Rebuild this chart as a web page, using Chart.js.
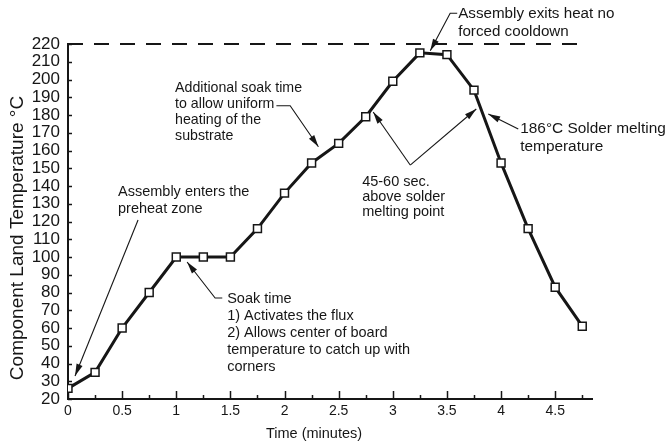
<!DOCTYPE html>
<html>
<head>
<meta charset="utf-8">
<script src="https://cdn.jsdelivr.net/npm/chart.js@4.4.0/dist/chart.umd.min.js"></script>
<style>
  body { margin: 0; background: #fff; }
  #wrap { width: 669px; height: 443px; }
</style>
</head>
<body>
<div id="wrap"><canvas id="profile" width="669" height="443"></canvas></div>
<script>
// reflow profile readings
const timeMin = [0, 0.25, 0.5, 0.75, 1, 1.25, 1.5, 1.75, 2, 2.25, 2.5, 2.75, 3, 3.25, 3.5, 3.75, 4, 4.25, 4.5, 4.75];
const tempC = [26, 35, 60, 80, 100, 100, 100, 116, 136, 153, 164, 179, 199, 215, 214, 194, 153, 116, 83, 61];
const xTickLabels = ['0', '0.5', '1', '1.5', '2', '2.5', '3', '3.5', '4', '4.5'];
const yTickLabels = [20, 30, 40, 50, 60, 70, 80, 90, 100, 110, 120, 130, 140, 150, 160, 170, 180, 190, 200, 210, 220];
const limitX = [0, 4.8];
const limitTemp = [220, 220];

const ink = '#161616';
const font = 'Liberation Sans, Arial, Helvetica, sans-serif';

// callouts: text anchor and arrow path are in data units (minutes, °C)
const notes = [
    { lines: ['Assembly enters the', 'preheat zone'], at: [0.462, 136.6], gap: 16.5, size: 14.5,
      path: [[0.647, 120.8], [0.065, 33]] },
    { lines: ['Soak time', '1) Activates the flux', '2) Allows center of board', 'temperature to catch up with', 'corners'],
      at: [1.47, 76.3], gap: 17, size: 14.5,
      path: [[1.425, 76.9], [1.359, 76.9], [1.10, 97.2]] },
    { lines: ['Additional soak time', 'to allow uniform', 'heating of the', 'substrate'], at: [0.989, 194.9], gap: 15.8, size: 14.2,
      path: [[1.925, 185.2], [2.052, 185.2], [2.313, 162.1]] },
    { lines: ['Assembly exits heat no', 'forced cooldown'], at: [3.604, 236.9], gap: 18, size: 15.2,
      path: [[3.595, 237.3], [3.53, 237.3], [3.346, 216.2]] },
    { lines: ['45-60 sec.', 'above solder', 'melting point'], at: [2.717, 142.3], gap: 14.8, size: 14.5,
      path: [[3.161, 151.8], [2.819, 181.7]], path2: [[3.161, 151.8], [3.771, 183.4]] },
    { lines: ['186\u00B0C Solder melting', 'temperature'], at: [4.177, 172.4], gap: 18, size: 15.4,
      path: [[4.159, 172.1], [3.882, 180.6]] }
];

function arrow(ctx, pts) {
    ctx.beginPath();
    ctx.moveTo(pts[0][0], pts[0][1]);
    for (let i = 1; i < pts.length; i++) ctx.lineTo(pts[i][0], pts[i][1]);
    ctx.stroke();
    const [tx, ty] = pts[pts.length - 1];
    const [fx, fy] = pts[pts.length - 2];
    const a = Math.atan2(ty - fy, tx - fx);
    const len = 12, half = 3.2;
    ctx.beginPath();
    ctx.moveTo(tx, ty);
    ctx.lineTo(tx - len * Math.cos(a) + half * Math.sin(a), ty - len * Math.sin(a) - half * Math.cos(a));
    ctx.lineTo(tx - len * Math.cos(a) - half * Math.sin(a), ty - len * Math.sin(a) + half * Math.cos(a));
    ctx.closePath();
    ctx.fill();
}

const sketch = {
    id: 'sketch',
    beforeDatasetsDraw(chart) {
        const { ctx, scales: { x, y } } = chart;
        ctx.save();
        ctx.strokeStyle = ink;
        ctx.lineWidth = 1.5;
        // tick marks point inward like the original
        x.ticks.forEach(t => {
            const len = xTickLabels.includes(String(t.value)) ? 8 : 4;
            const px = Math.round(x.getPixelForValue(t.value)) + 0.5;
            ctx.beginPath();
            ctx.moveTo(px, y.bottom);
            ctx.lineTo(px, y.bottom - len);
            ctx.stroke();
        });
        y.ticks.forEach(t => {
            const py = Math.round(y.getPixelForValue(t.value)) + 0.5;
            ctx.beginPath();
            ctx.moveTo(x.left, py);
            ctx.lineTo(x.left + 4, py);
            ctx.stroke();
        });
        ctx.restore();
    },
    afterDraw(chart) {
        const { ctx, scales: { x, y } } = chart;
        const toPx = p => [x.getPixelForValue(p[0]), y.getPixelForValue(p[1])];
        ctx.save();
        ctx.fillStyle = ink;
        ctx.strokeStyle = ink;
        ctx.lineWidth = 1.1;
        ctx.textBaseline = 'middle';
        ctx.textAlign = 'left';
        notes.forEach(n => {
            const [tx, ty] = toPx(n.at);
            ctx.font = n.size + 'px ' + font;
            n.lines.forEach((s, i) => ctx.fillText(s, tx, ty + i * n.gap));
            arrow(ctx, n.path.map(toPx));
            if (n.path2) arrow(ctx, n.path2.map(toPx));
        });

        // axis titles
        ctx.textAlign = 'center';
        ctx.font = '14.5px ' + font;
        ctx.fillText('Time (minutes)', 314, 434);
        ctx.translate(18, 238);
        ctx.rotate(-Math.PI / 2);
        ctx.font = '19px ' + font;
        ctx.fillText('Component Land Temperature \u00B0C', 0, 0);
        ctx.restore();
    }
};

new Chart(document.getElementById('profile'), {
    type: 'line',
    data: {
        datasets: [
            {
                data: timeMin.map((t, i) => ({ x: t, y: tempC[i] })),
                borderColor: ink,
                borderWidth: 3,
                pointStyle: 'rect',
                pointRadius: 5.6,
                pointBackgroundColor: '#fff',
                pointBorderColor: ink,
                pointBorderWidth: 1.5,
                tension: 0
            },
            {
                data: limitX.map((t, i) => ({ x: t, y: limitTemp[i] })),
                borderColor: ink,
                borderWidth: 2,
                borderDash: [15, 11],
                pointRadius: 0,
                clip: false
            }
        ]
    },
    options: {
        responsive: false,
        animation: false,
        layout: { padding: { top: 44, right: 77, left: 0, bottom: 0 } },
        plugins: { legend: { display: false }, tooltip: { enabled: false } },
        scales: {
            x: {
                type: 'linear',
                min: 0,
                max: 4.84,
                afterFit: s => { s.height = 44; },
                afterBuildTicks: s => { s.ticks = timeMin.map(v => ({ value: v })); },
                grid: { display: false, drawTicks: false },
                border: { display: true, color: ink, width: 2 },
                ticks: {
                    autoSkip: false,
                    maxRotation: 0,
                    padding: 4,
                    color: ink,
                    font: { family: font, size: 14 },
                    callback: v => xTickLabels.includes(String(v)) ? String(v) : ''
                }
            },
            y: {
                min: 20,
                max: 220,
                afterFit: s => { s.width = 68; },
                afterBuildTicks: s => { s.ticks = yTickLabels.map(v => ({ value: v })); },
                grid: { display: false, drawTicks: false },
                border: { display: true, color: ink, width: 2 },
                ticks: {
                    autoSkip: false,
                    padding: 8,
                    color: ink,
                    font: { family: font, size: 17 },
                    callback: v => String(v)
                }
            }
        }
    },
    plugins: [sketch]
});
</script>
</body>
</html>
